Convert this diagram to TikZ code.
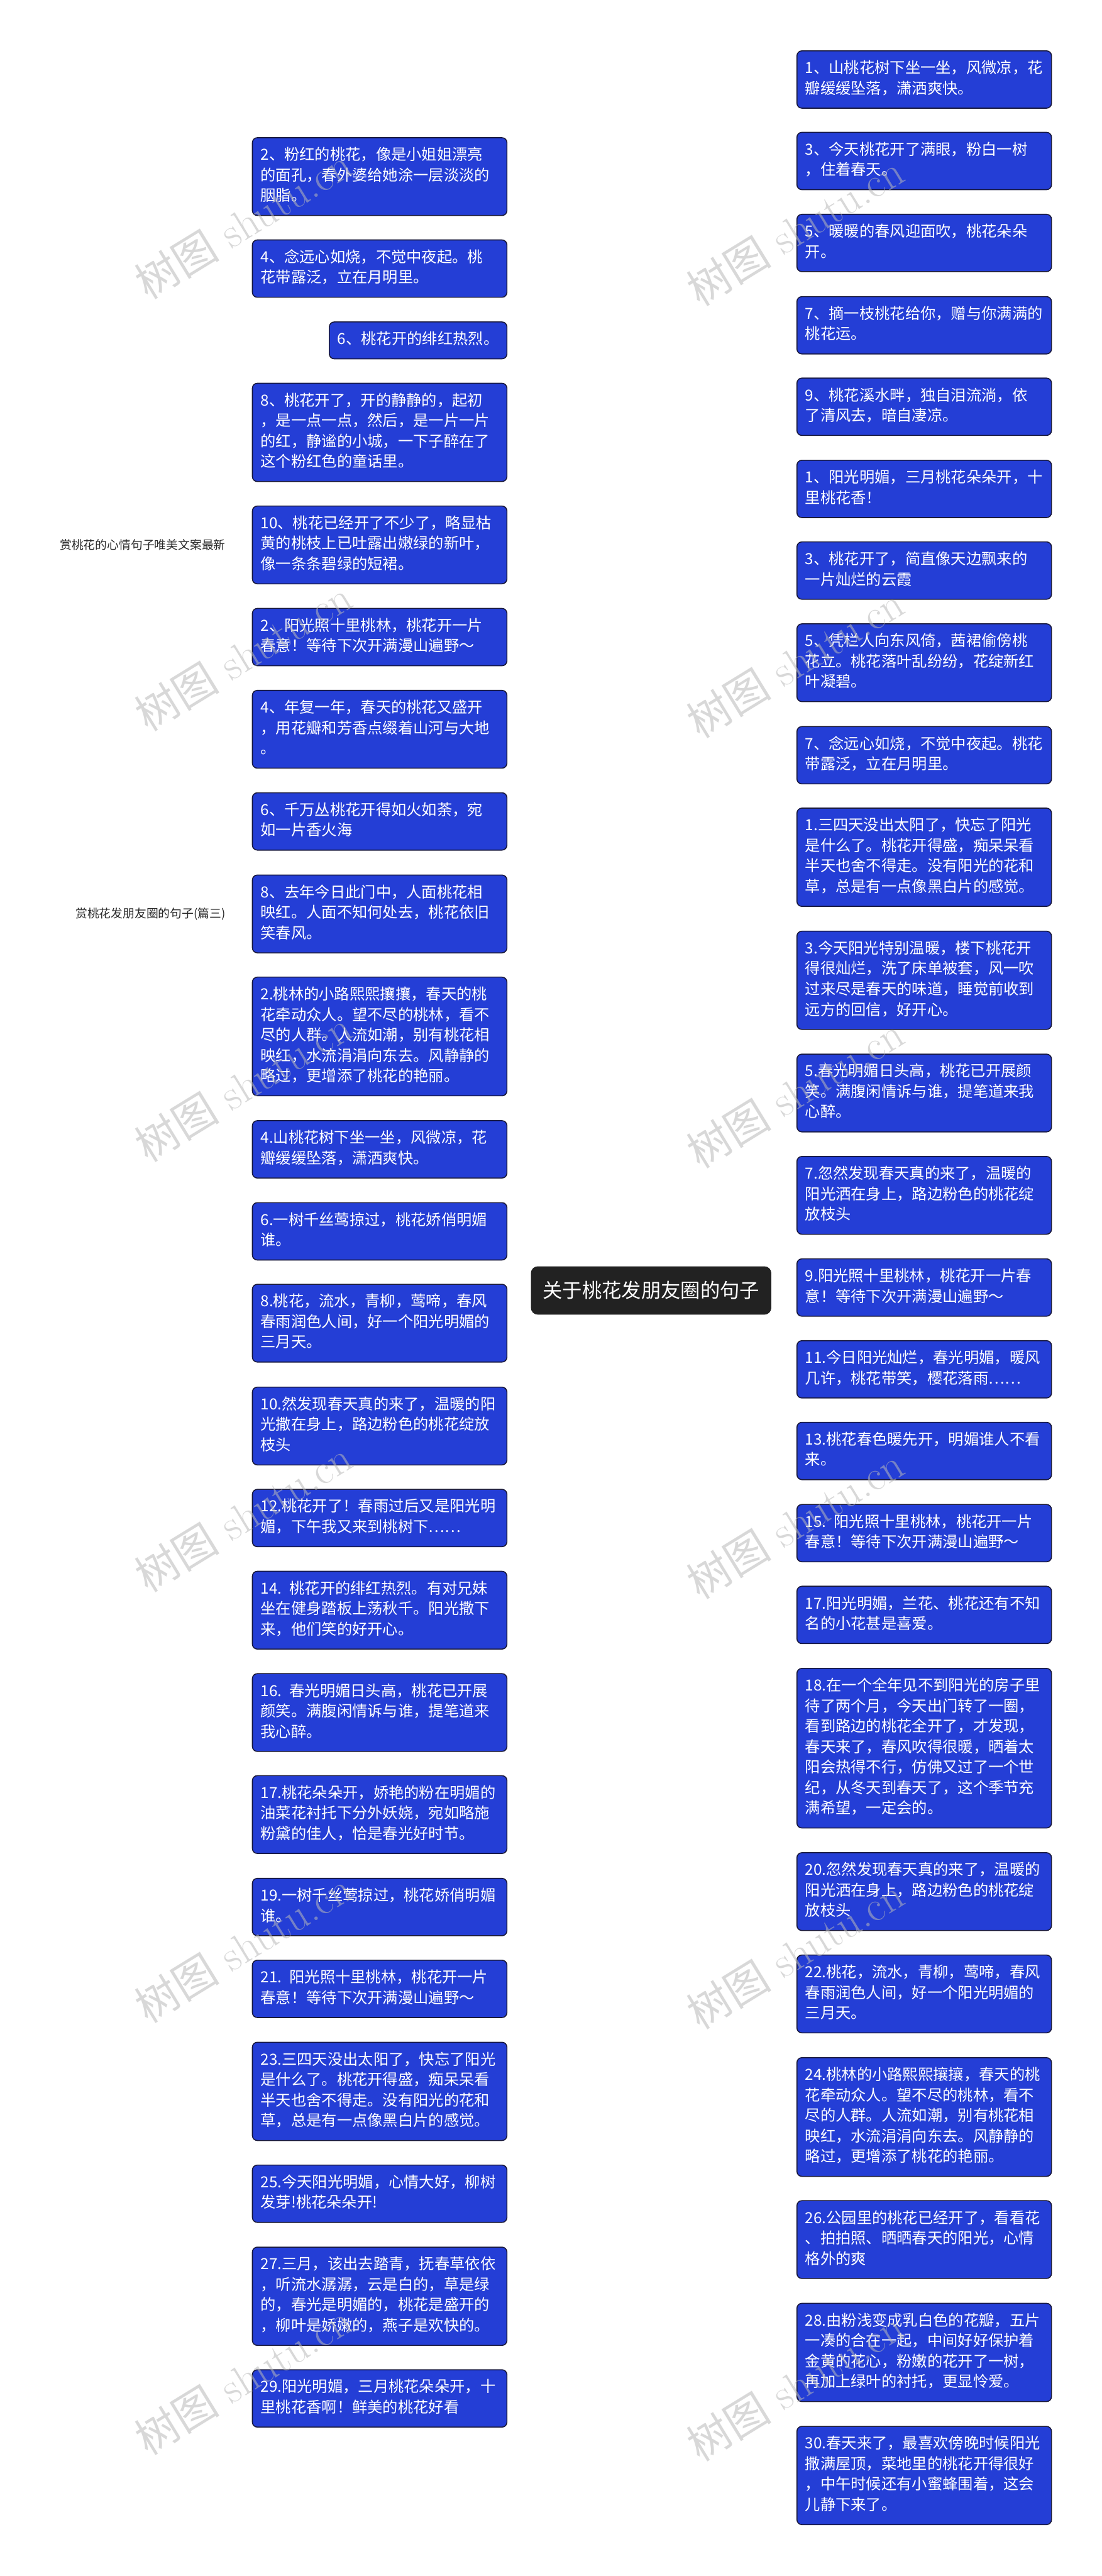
\documentclass[tikz,border=0pt]{standalone}
\usepackage{fontspec}
\newfontfamily\cjk{Noto Sans CJK SC}
\usetikzlibrary{calc,backgrounds}
\definecolor{boxblue}{RGB}{36,62,214}
\definecolor{boxedge}{RGB}{25,25,60}
\definecolor{rootfill}{RGB}{34,34,34}
\definecolor{wmgray}{RGB}{185,185,185}
\definecolor{linecol}{RGB}{20,20,20}
\definecolor{labcol}{RGB}{40,40,40}
\tikzset{
  tbox/.style={rectangle, rounded corners=3pt, fill=boxblue, draw=boxedge, line width=0.6pt,
    text=white, font=\cjk\fontsize{9.3}{12.45}\selectfont, align=left,
    inner xsep=5pt, inner ysep=5pt,
    execute at begin node=\strut, execute at end node=\strut},
  lbox/.style={tbox, text width=145pt, anchor=east},
  rbox/.style={tbox, text width=145pt, anchor=west},
  sbox/.style={tbox, anchor=east},
  rootbox/.style={rectangle, rounded corners=4pt, fill=rootfill, draw=rootfill, text=white,
    font=\cjk\fontsize{12}{14}\selectfont, inner xsep=7pt, minimum height=29pt},
  lab/.style={text=labcol, font=\cjk\fontsize{7.2}{9}\selectfont, inner sep=2pt, anchor=east},
  conn/.style={draw=linecol, line width=1.1pt},
  wm/.style={text=wmgray, opacity=0.55, rotate=31.5, anchor=base west, inner sep=0pt,
    font=\fontsize{26}{30}\selectfont}
}
\begin{document}
\begin{tikzpicture}[x=1pt,y=-1pt]
\useasboundingbox (0,0) rectangle (671,1568);
\fill[white] (0,0) rectangle (671,1568);

\node[rootbox] (root) at (396.5,785.5) {关于桃花发朋友圈的句子};

% left column
\node[lbox] (L1) at (309,107.5) {2、粉红的桃花，像是小姐姐漂亮\\的面孔，春外婆给她涂一层淡淡的\\胭脂。};
\node[lbox] (L2) at (309,163.5) {4、念远心如烧，不觉中夜起。桃\\花带露泛，立在月明里。};
\node[sbox] (L3) at (309,207.2) {6、桃花开的绯红热烈。};
\node[lbox] (L4) at (309,263.2) {8、桃花开了，开的静静的，起初\\，是一点一点，然后，是一片一片\\的红，静谧的小城，一下子醉在了\\这个粉红色的童话里。};
\node[lbox] (L5) at (309,331.7) {10、桃花已经开了不少了，略显枯\\黄的桃枝上已吐露出嫩绿的新叶，\\像一条条碧绿的短裙。};
\node[lbox] (L6) at (309,387.8) {2、阳光照十里桃林，桃花开一片\\春意！等待下次开满漫山遍野～};
\node[lbox] (L7) at (309,443.9) {4、年复一年，春天的桃花又盛开\\，用花瓣和芳香点缀着山河与大地\\。};
\node[lbox] (L8) at (309,500) {6、千万丛桃花开得如火如荼，宛\\如一片香火海};
\node[lbox] (L9) at (309,556.3) {8、去年今日此门中，人面桃花相\\映红。人面不知何处去，桃花依旧\\笑春风。};
\node[lbox] (L10) at (309,630.9) {2.桃林的小路熙熙攘攘，春天的桃\\花牵动众人。望不尽的桃林，看不\\尽的人群。人流如潮，别有桃花相\\映红，水流涓涓向东去。风静静的\\略过，更增添了桃花的艳丽。};
\node[lbox] (L11) at (309,699.6) {4.山桃花树下坐一坐，风微凉，花\\瓣缓缓坠落，潇洒爽快。};
\node[lbox] (L12) at (309,749.5) {6.一树千丝莺掠过，桃花娇俏明媚\\谁。};
\node[lbox] (L13) at (309,805.4) {8.桃花，流水，青柳，莺啼，春风\\春雨润色人间，好一个阳光明媚的\\三月天。};
\node[lbox] (L14) at (309,868) {10.然发现春天真的来了，温暖的阳\\光撒在身上，路边粉色的桃花绽放\\枝头};
\node[lbox] (L15) at (309,924) {12.桃花开了！春雨过后又是阳光明\\媚，下午我又来到桃树下……};
\node[lbox] (L16) at (309,980.1) {14. 桃花开的绯红热烈。有对兄妹\\坐在健身踏板上荡秋千。阳光撒下\\来，他们笑的好开心。};
\node[lbox] (L17) at (309,1042.4) {16. 春光明媚日头高，桃花已开展\\颜笑。满腹闲情诉与谁，提笔道来\\我心醉。};
\node[lbox] (L18) at (309,1104.5) {17.桃花朵朵开，娇艳的粉在明媚的\\油菜花衬托下分外妖娆，宛如略施\\粉黛的佳人，恰是春光好时节。};
\node[lbox] (L19) at (309,1160.8) {19.一树千丝莺掠过，桃花娇俏明媚\\谁。};
\node[lbox] (L20) at (309,1210.6) {21. 阳光照十里桃林，桃花开一片\\春意！等待下次开满漫山遍野～};
\node[lbox] (L21) at (309,1273) {23.三四天没出太阳了，快忘了阳光\\是什么了。桃花开得盛，痴呆呆看\\半天也舍不得走。没有阳光的花和\\草，总是有一点像黑白片的感觉。};
\node[lbox] (L22) at (309,1335.3) {25.今天阳光明媚，心情大好，柳树\\发芽!桃花朵朵开!};
\node[lbox] (L23) at (309,1397.7) {27.三月，该出去踏青，抚春草依依\\，听流水潺潺，云是白的，草是绿\\的，春光是明媚的，桃花是盛开的\\，柳叶是娇嫩的，燕子是欢快的。};
\node[lbox] (L24) at (309,1459.9) {29.阳光明媚，三月桃花朵朵开，十\\里桃花香啊！鲜美的桃花好看};

% labels on the far left
\node[lab] (S1) at (139.5,331.7) {赏桃花的心情句子唯美文案最新};
\node[lab] (S2) at (139.5,556.3) {赏桃花发朋友圈的句子(篇三)};

% right column
\node[rbox] (R1) at (485,48.4) {1、山桃花树下坐一坐，风微凉，花\\瓣缓缓坠落，潇洒爽快。};
\node[rbox] (R2) at (485,98) {3、今天桃花开了满眼，粉白一树\\，住着春天。};
\node[rbox] (R3) at (485,147.9) {5、暖暖的春风迎面吹，桃花朵朵\\开。};
\node[rbox] (R4) at (485,198) {7、摘一枝桃花给你，赠与你满满的\\桃花运。};
\node[rbox] (R5) at (485,247.6) {9、桃花溪水畔，独自泪流淌，依\\了清风去，暗自凄凉。};
\node[rbox] (R6) at (485,297.6) {1、阳光明媚，三月桃花朵朵开，十\\里桃花香！};
\node[rbox] (R7) at (485,347.3) {3、桃花开了，简直像天边飘来的\\一片灿烂的云霞};
\node[rbox] (R8) at (485,403.4) {5、凭栏人向东风倚，茜裙偷傍桃\\花立。桃花落叶乱纷纷，花绽新红\\叶凝碧。};
\node[rbox] (R9) at (485,459.7) {7、念远心如烧，不觉中夜起。桃花\\带露泛，立在月明里。};
\node[rbox] (R10) at (485,521.8) {1.三四天没出太阳了，快忘了阳光\\是什么了。桃花开得盛，痴呆呆看\\半天也舍不得走。没有阳光的花和\\草，总是有一点像黑白片的感觉。};
\node[rbox] (R11) at (485,596.7) {3.今天阳光特别温暖，楼下桃花开\\得很灿烂，洗了床单被套，风一吹\\过来尽是春天的味道，睡觉前收到\\远方的回信，好开心。};
\node[rbox] (R12) at (485,665.3) {5.春光明媚日头高，桃花已开展颜\\笑。满腹闲情诉与谁，提笔道来我\\心醉。};
\node[rbox] (R13) at (485,727.6) {7.忽然发现春天真的来了，温暖的\\阳光洒在身上，路边粉色的桃花绽\\放枝头};
\node[rbox] (R14) at (485,783.7) {9.阳光照十里桃林，桃花开一片春\\意！等待下次开满漫山遍野～};
\node[rbox] (R15) at (485,833.5) {11.今日阳光灿烂，春光明媚，暖风\\几许，桃花带笑，樱花落雨……};
\node[rbox] (R16) at (485,883.2) {13.桃花春色暖先开，明媚谁人不看\\来。};
\node[rbox] (R17) at (485,933.2) {15. 阳光照十里桃林，桃花开一片\\春意！等待下次开满漫山遍野～};
\node[rbox] (R18) at (485,983) {17.阳光明媚，兰花、桃花还有不知\\名的小花甚是喜爱。};
\node[rbox] (R19) at (485,1064.1) {18.在一个全年见不到阳光的房子里\\待了两个月，今天出门转了一圈，\\看到路边的桃花全开了，才发现，\\春天来了，春风吹得很暖，晒着太\\阳会热得不行，仿佛又过了一个世\\纪，从冬天到春天了，这个季节充\\满希望，一定会的。};
\node[rbox] (R20) at (485,1151.4) {20.忽然发现春天真的来了，温暖的\\阳光洒在身上，路边粉色的桃花绽\\放枝头};
\node[rbox] (R21) at (485,1213.7) {22.桃花，流水，青柳，莺啼，春风\\春雨润色人间，好一个阳光明媚的\\三月天。};
\node[rbox] (R22) at (485,1288.6) {24.桃林的小路熙熙攘攘，春天的桃\\花牵动众人。望不尽的桃林，看不\\尽的人群。人流如潮，别有桃花相\\映红，水流涓涓向东去。风静静的\\略过，更增添了桃花的艳丽。};
\node[rbox] (R23) at (485,1363.2) {26.公园里的桃花已经开了，看看花\\、拍拍照、晒晒春天的阳光，心情\\格外的爽};
\node[rbox] (R24) at (485,1431.9) {28.由粉浅变成乳白色的花瓣，五片\\一凑的合在一起，中间好好保护着\\金黄的花心，粉嫩的花开了一树，\\再加上绿叶的衬托，更显怜爱。};
\node[rbox] (R25) at (485,1506.8) {30.春天来了，最喜欢傍晚时候阳光\\撒满屋顶，菜地里的桃花开得很好\\，中午时候还有小蜜蜂围着，这会\\儿静下来了。};

% connectors
\begin{scope}[on background layer]
\foreach \n in {L1,L2,L3,L4,L5,L6,L7,L8,L9,L10,L11,L12,L13,L14,L15,L16,L17,L18,L19,L20,L21,L22,L23,L24}{
  \draw[conn] (root.center) .. controls ($(root.center)!0.667!(root.center |- \n.east)$)
     and ($(\n.east)!0.667!(root.center |- \n.east)$) .. (\n.east);
}
\foreach \n in {R1,R2,R3,R4,R5,R6,R7,R8,R9,R10,R11,R12,R13,R14,R15,R16,R17,R18,R19,R20,R21,R22,R23,R24,R25}{
  \draw[conn] (root.center) .. controls ($(root.center)!0.667!(root.center |- \n.west)$)
     and ($(\n.west)!0.667!(root.center |- \n.west)$) .. (\n.west);
}
\draw[conn] (S1.east) -- (L5.west);
\draw[conn] (S2.east) -- (L9.west);
\end{scope}

% watermarks
\foreach \y in {183,446,708,970,1232,1495}{
  \node[wm] at (90,\y) {{\cjk 树图} shutu.cn};
  \node[wm] at (426,\y+4) {{\cjk 树图} shutu.cn};
}
\end{tikzpicture}
\end{document}
